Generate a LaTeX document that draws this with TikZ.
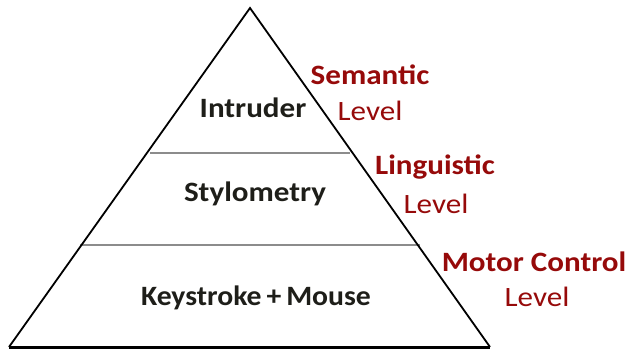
\documentclass[tikz,border=0pt]{standalone}
\usepackage{fontspec}
\setmainfont{Carlito}
\definecolor{lvlred}{RGB}{150,10,10}
\definecolor{txtdark}{RGB}{30,30,25}
\newcommand{\wide}[1]{\scalebox{1.11}[1]{#1}}
\tikzset{
  layertext/.style={font=\fontsize{28}{30}\selectfont\bfseries, text=txtdark, inner sep=0pt},
  lvlbold/.style={font=\fontsize{28}{30}\selectfont\bfseries, text=lvlred, inner sep=0pt},
  lvlreg/.style={font=\fontsize{28}{30}\selectfont, text=lvlred, inner sep=0pt},
  divider/.style={draw=black!45, line width=2pt},
}
\begin{document}
\begin{tikzpicture}[x=1pt,y=-1pt]
\useasboundingbox (0,0) rectangle (636,352);
\coordinate (apex) at (250,8);
\coordinate (bl) at (9,347);
\coordinate (br) at (490,347);
\coordinate (d1l) at (150,153);
\coordinate (d1r) at (350,153);
\coordinate (d2l) at (80,245);
\coordinate (d2r) at (420,245);
\draw[divider] (d1l) -- (d1r);
\draw[divider] (d2l) -- (d2r);
\draw[line width=1.8pt, line join=miter] (bl) -- (apex) -- (br);
\draw[line width=3pt] (bl) -- (br);
\node[layertext] (intruder) at (253,108) {\wide{Intruder}};
\node[layertext] (stylo) at (255,194) {\wide{Stylometry}};
\node[layertext] (keys) at (256,298) {\scalebox{1.06}[1]{Keystroke\,+\,Mouse}};
\node[lvlbold] (sem) at (370,75) {\wide{Semantic}};
\node[lvlreg] (seml) at (370,111) {\wide{Level}};
\node[lvlbold] (ling) at (435,167) {\wide{Linguistic}};
\node[lvlreg] (lingl) at (436,204) {\wide{Level}};
\node[lvlbold] (motor) at (534,262) {\wide{Motor Control}};
\node[lvlreg] (motorl) at (537,297) {\wide{Level}};
\end{tikzpicture}
\end{document}
